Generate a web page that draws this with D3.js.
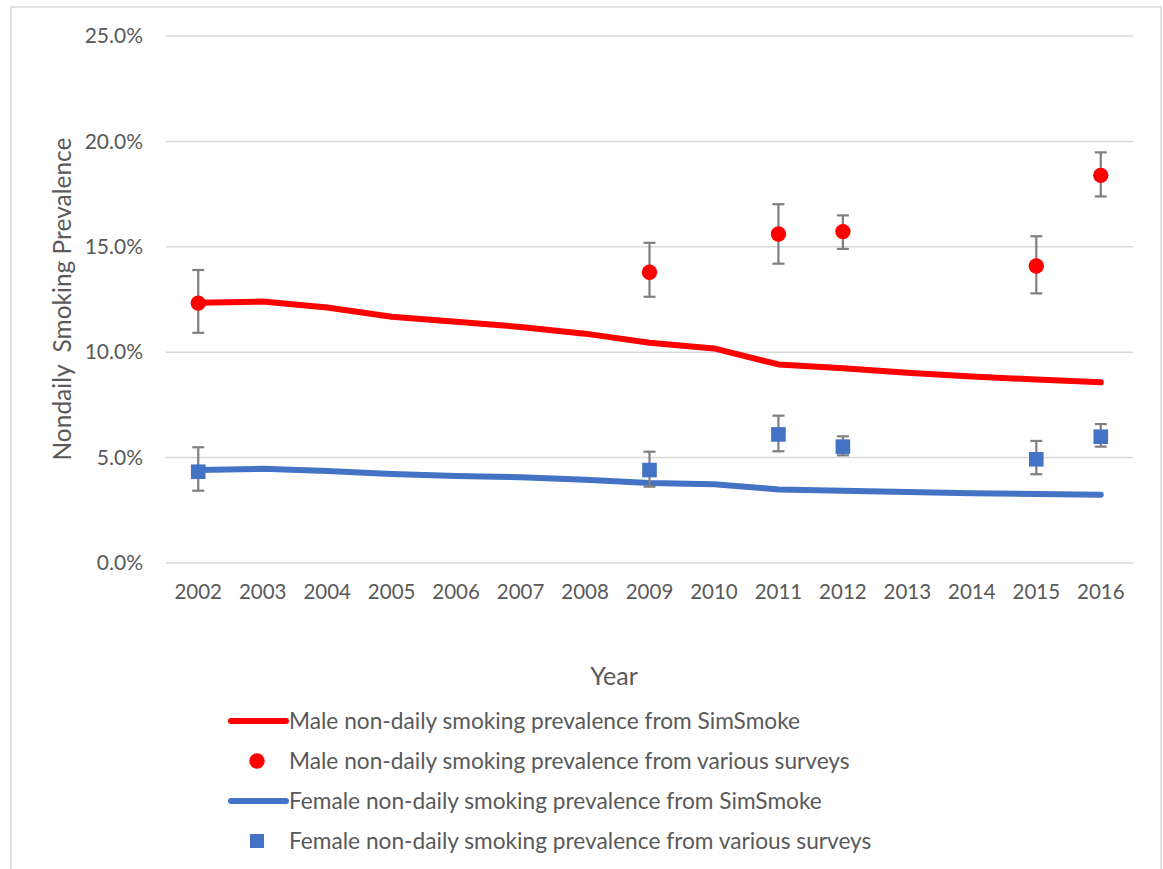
<!DOCTYPE html>
<html>
<head>
<meta charset="utf-8">
<script src="https://cdn.jsdelivr.net/npm/d3@7/dist/d3.min.js"></script>
<style>
  html, body { margin: 0; padding: 0; background: #fff; }
  svg { display: block; font-family: Lato, "Open Sans", sans-serif; }
</style>
</head>
<body>
<svg id="chart" width="1163" height="869"></svg>
<script>
// ---- Data ----
const years = ["2002","2003","2004","2005","2006","2007","2008","2009","2010","2011","2012","2013","2014","2015","2016"];
const maleSim   = [12.35,12.40,12.12,11.68,11.44,11.20,10.88,10.45,10.18,9.42,9.24,9.02,8.85,8.70,8.57];
const femaleSim = [4.41,4.47,4.36,4.22,4.13,4.07,3.95,3.80,3.74,3.49,3.43,3.37,3.31,3.27,3.24];

const surveyYears  = ["2002","2009","2011","2012","2015","2016"];
const maleSurvey   = [12.33,13.79,15.61,15.72,14.09,18.39];
const maleLow      = [10.92,12.63,14.20,14.90,12.79,17.39];
const maleHigh     = [13.90,15.19,17.02,16.49,15.50,19.48];
const femaleSurvey = [4.33,4.41,6.10,5.52,4.92,5.99];
const femaleLow    = [3.43,3.62,5.30,5.11,4.21,5.52];
const femaleHigh   = [5.49,5.28,6.99,6.01,5.79,6.59];

const yTicks = [0,5,10,15,20,25];
const legendLabels = [
  "Male non-daily smoking prevalence from SimSmoke",
  "Male non-daily smoking prevalence from various surveys",
  "Female non-daily smoking prevalence from SimSmoke",
  "Female non-daily smoking prevalence from various surveys"
];

// ---- Styles ----
const RED = "#FF0000", BLUE = "#4472C4", GRID = "#D9D9D9", TEXT = "#595959", ERR = "#7F7F7F";

const svg = d3.select("#chart");

// outer border
svg.append("rect").attr("x", 11).attr("y", 7).attr("width", 1150).attr("height", 880)
  .attr("fill", "none").attr("stroke", "#D9D9D9").attr("stroke-width", 1.5);

const x = d3.scaleBand().domain(years).range([166, 1133]);
const y = d3.scaleLinear().domain([0, 25]).range([563, 36]);
const cx = d => x(d) + x.bandwidth() / 2;

// gridlines
svg.append("g").selectAll("line").data(yTicks).join("line")
  .attr("x1", 166).attr("x2", 1133)
  .attr("y1", d => y(d)).attr("y2", d => y(d))
  .attr("stroke", GRID).attr("stroke-width", 1.5);

// y axis
const yAxis = svg.append("g").attr("transform", "translate(166,0)")
  .call(d3.axisLeft(y).tickValues(yTicks).tickSize(0).tickPadding(23).tickFormat(d => d.toFixed(1) + "%"));
yAxis.select(".domain").remove();
yAxis.selectAll("text").attr("fill", TEXT).style("font-size", "21px").style("font-family", "Lato, sans-serif");

// x axis
const xAxis = svg.append("g").attr("transform", "translate(0,563)")
  .call(d3.axisBottom(x).tickSize(0).tickPadding(21));
xAxis.select(".domain").remove();
xAxis.selectAll("text").attr("fill", TEXT).style("font-size", "20.5px").style("font-family", "Lato, sans-serif");

// axis titles
svg.append("text").attr("transform", "translate(71,299) rotate(-90)")
  .attr("text-anchor", "middle").attr("fill", TEXT).style("font-size", "24.5px")
  .text("Nondaily\u00A0\u00A0Smoking Prevalence");
svg.append("text").attr("x", 614).attr("y", 685).attr("text-anchor", "middle")
  .attr("fill", TEXT).style("font-size", "25px").text("Year");

// lines
const line = d3.line().x((d, i) => cx(years[i])).y(d => y(d));
svg.append("path").datum(maleSim).attr("d", line).attr("fill", "none")
  .attr("stroke", RED).attr("stroke-width", 6).attr("stroke-linecap", "round").attr("stroke-linejoin", "round");
svg.append("path").datum(femaleSim).attr("d", line).attr("fill", "none")
  .attr("stroke", BLUE).attr("stroke-width", 6).attr("stroke-linecap", "round").attr("stroke-linejoin", "round");

// error bars
function errorBars(lo, hi) {
  const g = svg.append("g").attr("stroke", ERR).attr("stroke-width", 2.2);
  surveyYears.forEach((yr, i) => {
    const xc = cx(yr);
    g.append("line").attr("x1", xc).attr("x2", xc).attr("y1", y(lo[i])).attr("y2", y(hi[i]));
    g.append("line").attr("x1", xc - 6).attr("x2", xc + 6).attr("y1", y(lo[i])).attr("y2", y(lo[i]));
    g.append("line").attr("x1", xc - 6).attr("x2", xc + 6).attr("y1", y(hi[i])).attr("y2", y(hi[i]));
  });
}
errorBars(maleLow, maleHigh);
errorBars(femaleLow, femaleHigh);

// markers
svg.append("g").selectAll("circle").data(maleSurvey).join("circle")
  .attr("cx", (d, i) => cx(surveyYears[i])).attr("cy", d => y(d)).attr("r", 7.7).attr("fill", RED);
svg.append("g").selectAll("rect").data(femaleSurvey).join("rect")
  .attr("x", (d, i) => cx(surveyYears[i]) - 7.3).attr("y", d => y(d) - 7.3)
  .attr("width", 14.6).attr("height", 14.6).attr("fill", BLUE);

// legend
const legY = [721, 761, 801, 841];
const lg = svg.append("g");
legendLabels.forEach((lab, i) => {
  const yy = legY[i];
  if (i === 0 || i === 2) {
    lg.append("line").attr("x1", 231).attr("x2", 286).attr("y1", yy).attr("y2", yy)
      .attr("stroke", i === 0 ? RED : BLUE).attr("stroke-width", 6).attr("stroke-linecap", "round");
  } else if (i === 1) {
    lg.append("circle").attr("cx", 257).attr("cy", yy).attr("r", 7.7).attr("fill", RED);
  } else {
    lg.append("rect").attr("x", 250).attr("y", yy - 7).attr("width", 14).attr("height", 14).attr("fill", BLUE);
  }
  lg.append("text").attr("x", 289).attr("y", yy).attr("dy", "0.35em")
    .attr("fill", TEXT).style("font-size", "22.7px").text(lab);
});
</script>
</body>
</html>
